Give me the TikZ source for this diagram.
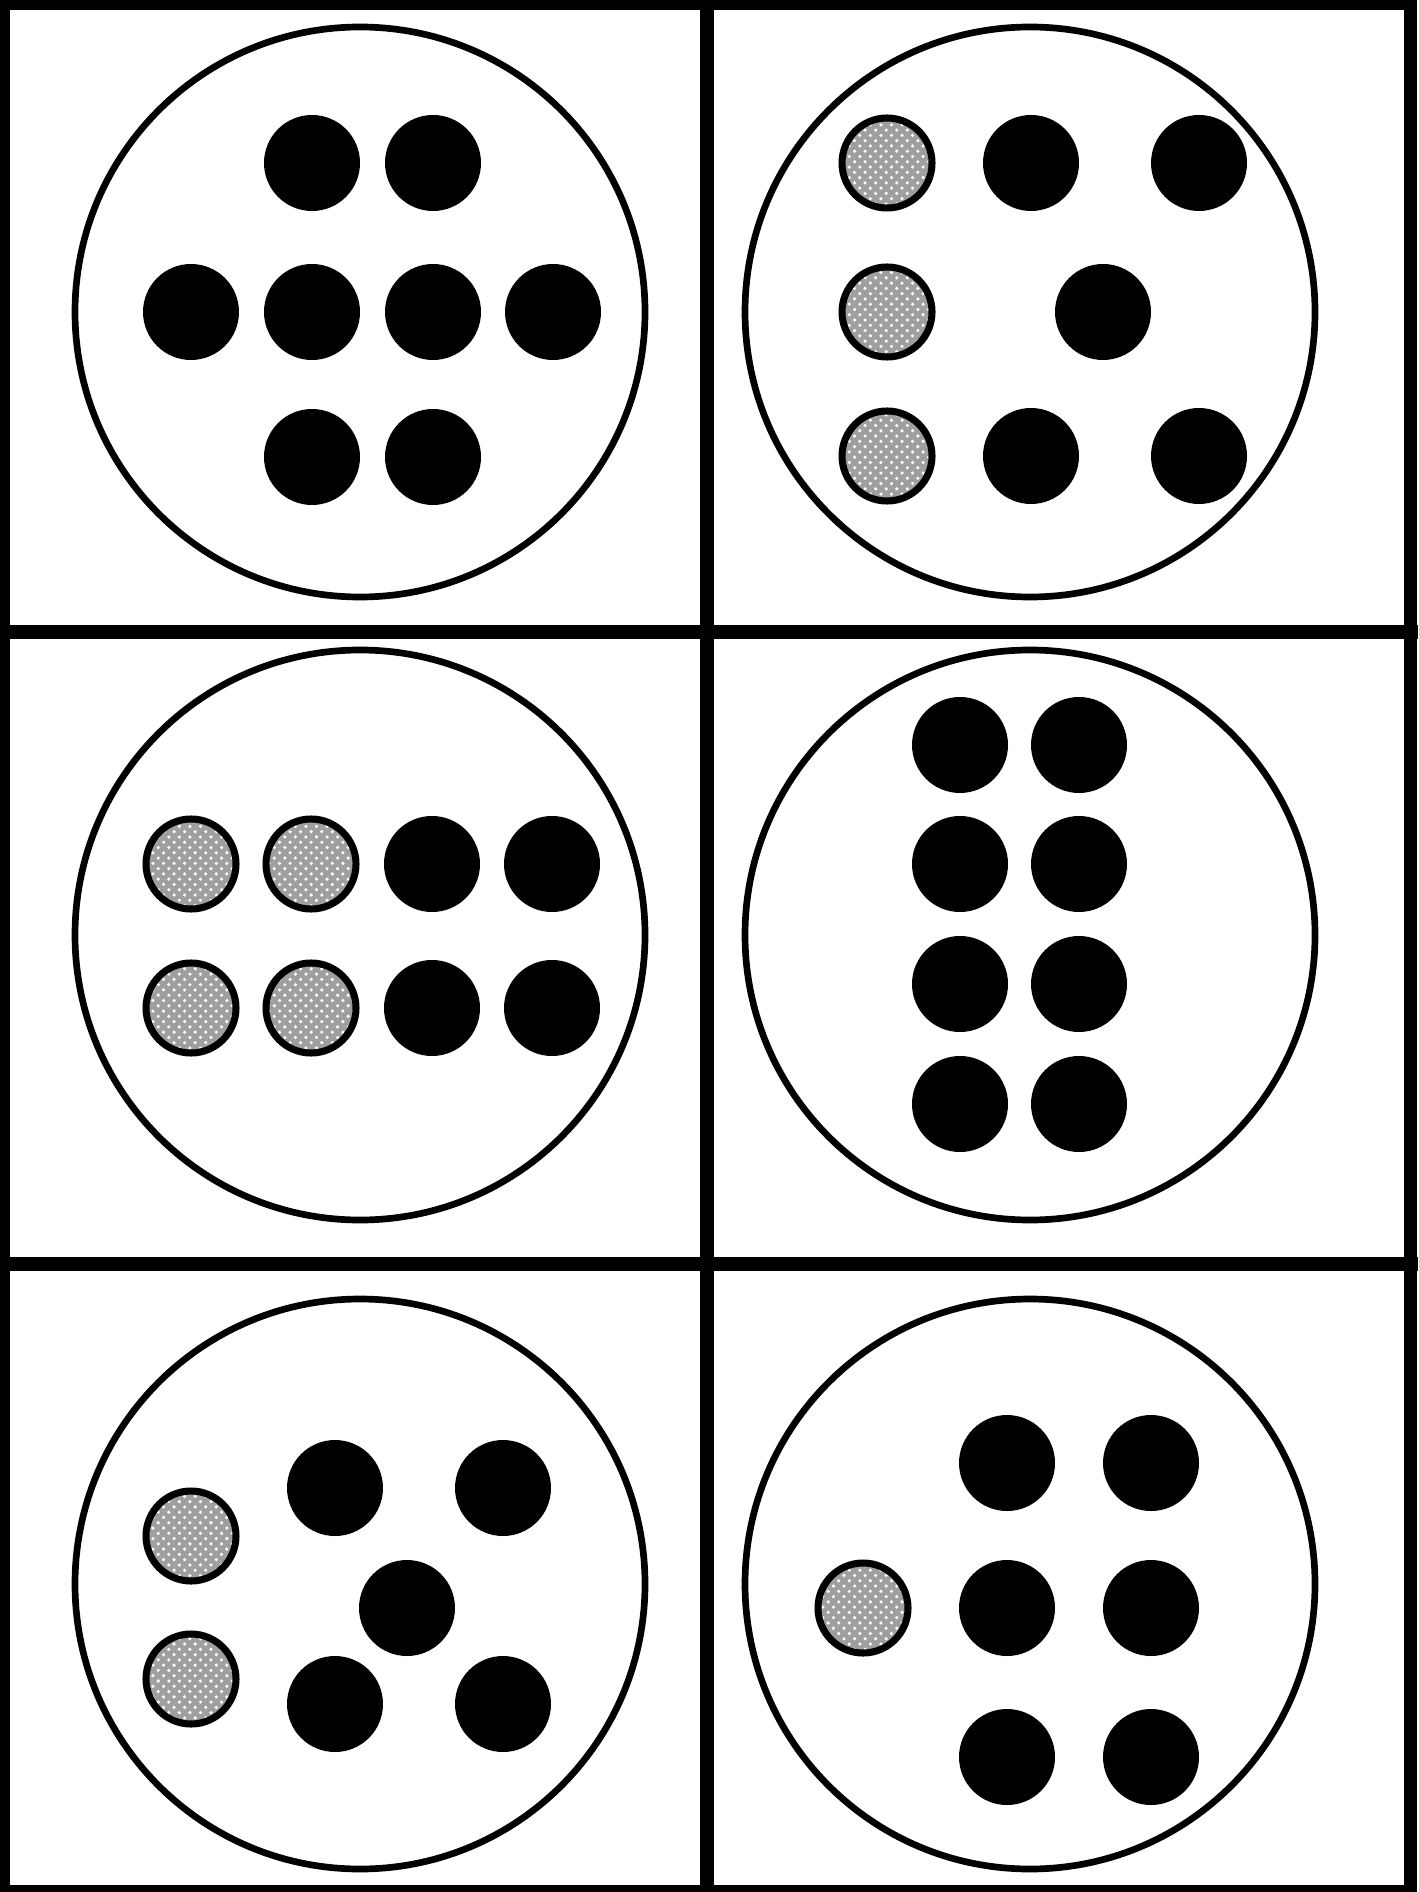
\documentclass[tikz,border=0pt]{standalone}
\usepackage{tikz}
\usetikzlibrary{patterns}
\tikzset{
  frame/.style  ={draw, line width=3.8pt},
  ring/.style   ={draw, line width=1.9pt},
  dot/.style    ={fill=black},
  hatched/.style={draw, line width=2pt, preaction={fill=gray!75}, pattern=crosshatch dots, pattern color=white},
}

\begin{document}
\begin{tikzpicture}[x=0.01cm, y=-0.01cm]
  \useasboundingbox (0,0) rectangle (1418,1892);
  % grid of six panels
  \draw[frame] (3.5,3.5) rectangle (1410.5,1891.5);
  \draw[frame] (707,0) -- (707,1892);
  \draw[frame] (0,632) -- (1418,632);
  \draw[frame] (0,1264) -- (1418,1264);

  % panel rings
  \foreach \cx in {360,1030}
    \foreach \cy in {312,935,1584}
      \draw[ring] (\cx,\cy) circle (285);

  % top left
  \foreach \x/\y in {312/163, 433/163, 191/312, 312/312, 433/312, 553/312, 312/457, 433/457}
    \fill[dot] (\x,\y) circle (48);

  % top right
  \foreach \y in {163,312,456}
    \draw[hatched] (887,\y) circle (45);
  \foreach \x/\y in {1031/163, 1199/163, 1103/312, 1031/456, 1199/456}
    \fill[dot] (\x,\y) circle (48);

  % middle left
  \foreach \x/\y in {191/864, 311/864, 191/1008, 311/1008}
    \draw[hatched] (\x,\y) circle (45);
  \foreach \x/\y in {432/864, 552/864, 432/1008, 552/1008}
    \fill[dot] (\x,\y) circle (48);

  % middle right
  \foreach \x in {960,1079}
    \foreach \y in {745,864,984,1104}
      \fill[dot] (\x,\y) circle (48);

  % bottom left
  \foreach \y in {1536,1679}
    \draw[hatched] (191,\y) circle (45);
  \foreach \x/\y in {335/1488, 503/1488, 407/1608, 335/1704, 503/1704}
    \fill[dot] (\x,\y) circle (48);

  % bottom right
  \draw[hatched] (863,1608) circle (45);
  \foreach \x/\y in {1007/1463, 1151/1463, 1007/1608, 1151/1608, 1007/1757, 1151/1757}
    \fill[dot] (\x,\y) circle (48);
\end{tikzpicture}
\end{document}
